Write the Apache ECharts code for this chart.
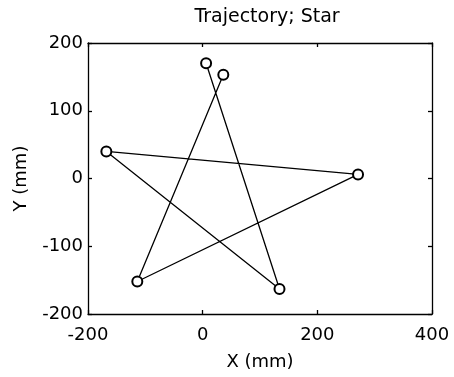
<!DOCTYPE html>
<html>
<head>
<meta charset="utf-8">
<script src="https://cdn.jsdelivr.net/npm/echarts@6/dist/echarts.min.js"></script>
<style>
html,body{margin:0;padding:0;background:#fff;}
#main{width:454px;height:377px;}
</style>
</head>
<body>
<div id="main"></div>
<script>
// Trajectory points (mm), in drawing order
var xValues = [6, 134, -168, 271, -114, 36];
var yValues = [170, -163, 40, 6, -152, 153];
var xTicks = [-200, 0, 200, 400];
var yTicks = [-200, -100, 0, 100, 200];
var titleText = 'Trajectory; Star';
var xName = 'X (mm)';
var yName = 'Y (mm)';

var points = xValues.map(function (x, i) { return [x, yValues[i]]; });
var font = 'DejaVu Sans';

var chart = echarts.init(document.getElementById('main'), null, {renderer: 'canvas'});
var axisLine = {show: true, onZero: false, lineStyle: {color: '#000', width: 1.3}};
var axisTick = {show: true, inside: true, length: 4, lineStyle: {color: '#000', width: 1.3}};
chart.setOption({
  animation: false,
  backgroundColor: '#fff',
  title: {
    text: titleText,
    left: 262,
    top: 3,
    textAlign: 'center',
    textStyle: {fontFamily: font, fontSize: 19, fontWeight: 'normal', color: '#000'}
  },
  grid: {left: 88, right: 22, top: 43, bottom: 63, containLabel: false},
  xAxis: [{
    type: 'value', min: xTicks[0], max: xTicks[xTicks.length - 1], interval: 200,
    position: 'bottom',
    name: xName, nameLocation: 'middle', nameGap: 39,
    nameTextStyle: {fontFamily: font, fontSize: 18, color: '#000'},
    axisLine: axisLine, axisTick: axisTick, splitLine: {show: false},
    axisLabel: {fontFamily: font, fontSize: 18, color: '#000', margin: 12}
  }, {
    type: 'value', min: xTicks[0], max: xTicks[xTicks.length - 1], interval: 200,
    position: 'top',
    axisLine: axisLine, axisTick: axisTick, splitLine: {show: false},
    axisLabel: {show: false}
  }],
  yAxis: [{
    type: 'value', min: yTicks[0], max: yTicks[yTicks.length - 1], interval: 100,
    position: 'left',
    name: yName, nameLocation: 'middle', nameGap: 58,
    nameTextStyle: {fontFamily: font, fontSize: 18, color: '#000'},
    axisLine: axisLine, axisTick: axisTick, splitLine: {show: false},
    axisLabel: {fontFamily: font, fontSize: 18, color: '#000', margin: 5}
  }, {
    type: 'value', min: yTicks[0], max: yTicks[yTicks.length - 1], interval: 100,
    position: 'right',
    axisLine: axisLine, axisTick: axisTick, splitLine: {show: false},
    axisLabel: {show: false}
  }],
  series: [{
    type: 'line',
    data: points,
    symbol: 'emptyCircle',
    symbolSize: 10,
    showSymbol: true,
    lineStyle: {color: '#000', width: 1.3},
    itemStyle: {color: '#000', borderColor: '#000', borderWidth: 1.2},
    z: 5
  }]
});
</script>
</body>
</html>
